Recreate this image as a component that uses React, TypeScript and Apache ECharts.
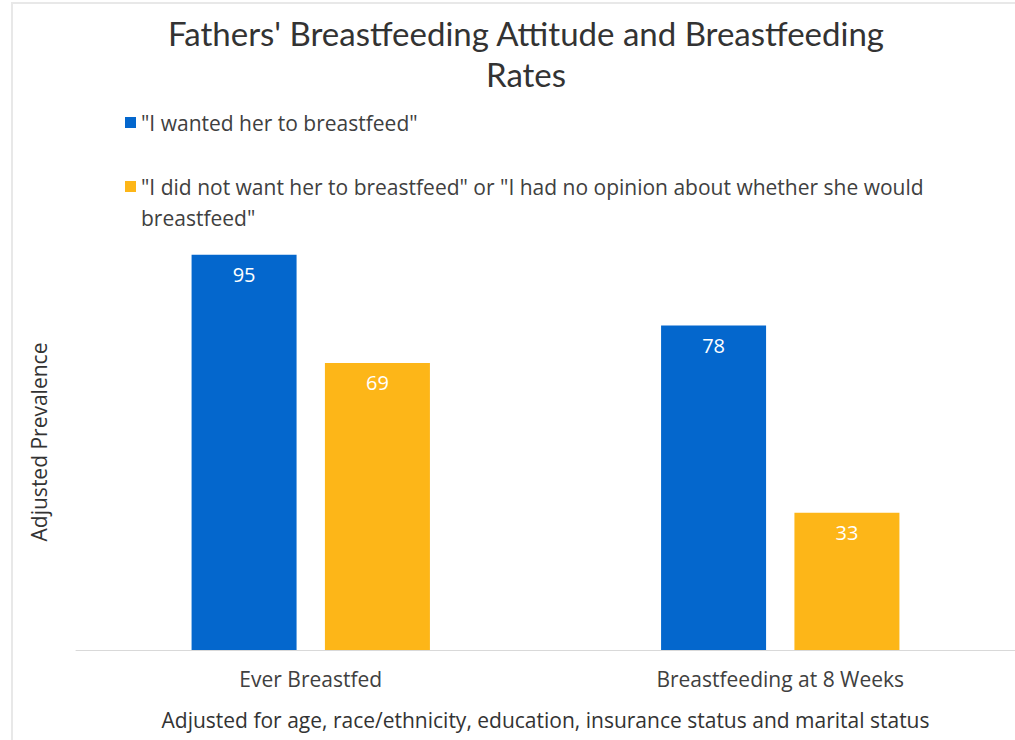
import React, { useEffect, useRef } from "react";
import * as echarts from "echarts";

const categories = ["Ever Breastfed", "Breastfeeding at 8 Weeks"];
const seriesNames = [
  '"I wanted her to breastfeed"',
  '"I did not want her to breastfeed" or "I had no opinion about whether she would breastfeed"',
];
const wantedValues = [95, 78];
const notWantedValues = [69, 33];

const TITLE_FONT = "Lato, 'Open Sans', sans-serif";
const FONT = "'Open Sans', Lato, sans-serif";
const BLUE = "#0467CD";
const YELLOW = "#FDB618";
const TEXT = "#404040";
const FS = 21;

export default function App() {
  const ref = useRef<HTMLDivElement>(null);
  useEffect(() => {
    if (!ref.current) return;
    const chart = echarts.init(ref.current, undefined, { renderer: "svg" });
    chart.setOption({
      animation: false,
      backgroundColor: "#fff",
      textStyle: { fontFamily: FONT },
      title: {
        text: "Fathers' Breastfeeding Attitude and Breastfeeding\nRates",
        left: 521,
        top: 7,
        textAlign: "center",
        textStyle: {
          fontFamily: TITLE_FONT,
          fontSize: 33,
          fontWeight: "normal",
          color: "#333",
          lineHeight: 41,
        },
      },
      legend: [
        {
          data: [seriesNames[0]],
          left: 120,
          top: 107,
          orient: "vertical",
          itemWidth: 11,
          itemHeight: 11,
          itemGap: 8,
          icon: "rect",
          textStyle: { fontFamily: FONT, fontSize: FS, color: TEXT },
        },
        {
          data: [seriesNames[1]],
          left: 120,
          top: 135,
          orient: "vertical",
          itemWidth: 11,
          itemHeight: 11,
          icon: "rect",
          formatter: (name: string) => "\n" + name,
          textStyle: {
            fontFamily: FONT,
            fontSize: FS,
            color: TEXT,
            width: 800,
            overflow: "break",
            lineHeight: 31,
          },
        },
      ],
      grid: { left: 76, right: -5, top: 234, bottom: 90, containLabel: false },
      xAxis: {
        type: "category",
        data: categories,
        axisLine: { lineStyle: { color: "#d9d9d9", width: 1 } },
        axisTick: { show: false },
        axisLabel: { fontFamily: FONT, fontSize: FS, color: TEXT, margin: 18 },
        name: "Adjusted for age, race/ethnicity, education, insurance status and marital status",
        nameLocation: "middle",
        nameGap: 59,
        nameTextStyle: { fontFamily: FONT, fontSize: FS, color: "#333" },
      },
      yAxis: {
        type: "value",
        min: 0,
        max: 100,
        axisLine: { show: false },
        axisTick: { show: false },
        axisLabel: { show: false },
        splitLine: { show: false },
        name: "Adjusted Prevalence",
        nameLocation: "middle",
        nameGap: 27,
        nameRotate: 90,
        nameTextStyle: { fontFamily: FONT, fontSize: FS, color: "#333" },
      },
      series: [
        {
          name: seriesNames[0],
          type: "bar",
          data: wantedValues,
          barWidth: 105,
          barGap: "27%",
          itemStyle: { color: BLUE },
          label: {
            show: true,
            position: "insideTop",
            distance: 10,
            color: "#fff",
            fontFamily: FONT,
            fontSize: 20,
          },
        },
        {
          name: seriesNames[1],
          type: "bar",
          data: notWantedValues,
          barWidth: 105,
          itemStyle: { color: YELLOW },
          label: {
            show: true,
            position: "insideTop",
            distance: 10,
            color: "#fff",
            fontFamily: FONT,
            fontSize: 20,
          },
        },
      ],
      graphic: [
        {
          type: "rect",
          shape: { x: 12, y: 3, width: 1030, height: 780 },
          style: { fill: "none", stroke: "#e8e8e8", lineWidth: 2 },
          silent: true,
        },
      ],
    });
    return () => chart.dispose();
  }, []);
  return (
    <div
      ref={ref}
      style={{ position: "fixed", left: 0, top: 0, width: 1015, height: 740 }}
    />
  );
}
